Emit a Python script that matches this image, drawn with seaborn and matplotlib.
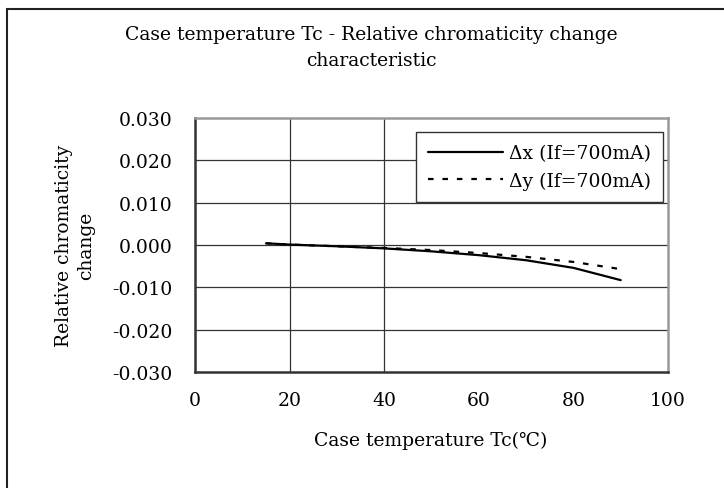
import matplotlib
matplotlib.use('Agg')
import matplotlib.pyplot as plt
import seaborn as sns
import pandas as pd
from matplotlib.patches import Rectangle

# DANE
temps = [15, 20, 30, 40, 50, 60, 70, 80, 90]
dx_vals = [0.0004, 0.0001, -0.0003, -0.0008, -0.0015, -0.0024, -0.0036, -0.0054, -0.0083]
dy_vals = [0.0004, 0.0001, -0.0003, -0.0007, -0.0012, -0.0019, -0.0028, -0.0040, -0.0057]
x_ticks = [0, 20, 40, 60, 80, 100]
y_ticks = [-0.030, -0.020, -0.010, 0.000, 0.010, 0.020, 0.030]
x_grid = [20, 40]

title_text = 'Case temperature Tc - Relative chromaticity change\ncharacteristic'
xlabel_text = 'Case temperature Tc(℃)'
ylabel_text = 'Relative chromaticity\nchange'
label_dx = 'Δx (If=700mA)'
label_dy = 'Δy (If=700mA)'

FS = 13.5

sns.set_style('white')
plt.rcParams['font.family'] = ['DejaVu Serif', 'DejaVu Sans']
plt.rcParams['text.color'] = 'black'

fig = plt.figure(figsize=(7.24, 4.89), dpi=100)
W, H = 724, 489

# ramka wokol calego wykresu
fig.patches.append(Rectangle((7 / W, -0.1), 1.2, 1 - 10 / H + 0.1, transform=fig.transFigure,
                             fill=False, edgecolor='#222222', linewidth=1.5))

ax = fig.add_axes([195 / W, 1 - 373 / H, 473 / W, 254 / H])

df = pd.DataFrame({'temp': temps, 'dx': dx_vals, 'dy': dy_vals})
sns.lineplot(data=df, x='temp', y='dx', ax=ax, color='black', linewidth=1.6, label=label_dx)
sns.lineplot(data=df, x='temp', y='dy', ax=ax, color='black', linewidth=1.6, label=label_dy)
ax.lines[1].set_dashes((2.5, 4))

ax.set_xlim(0, 100)
ax.set_ylim(-0.030, 0.030)
ax.set_xticks(x_ticks)
ax.set_yticks(y_ticks)
ax.set_xticklabels([str(t) for t in x_ticks])
ax.set_yticklabels(['%.3f' % t for t in y_ticks])
ax.set_xlabel('')
ax.set_ylabel('')

ax.tick_params(axis='x', direction='in', length=5, width=1, pad=14, labelsize=FS,
               colors='#333333', labelcolor='black')
ax.tick_params(axis='y', direction='in', length=5, width=1, pad=16, labelsize=FS,
               colors='#333333', labelcolor='black')

# siatka: poziome na kazdym ticku, pionowe tylko przy 20 i 40
for yv in y_ticks[1:-1]:
    ax.axhline(yv, color='#333333', linewidth=0.9, zorder=0)
for xv in x_grid:
    ax.axvline(xv, color='#333333', linewidth=0.9, zorder=0)

for side in ['left', 'bottom']:
    ax.spines[side].set_color('#333333')
    ax.spines[side].set_linewidth(1.8)
for side in ['top', 'right']:
    ax.spines[side].set_color('#999999')
    ax.spines[side].set_linewidth(1.8)

leg = ax.legend(loc='upper right', bbox_to_anchor=(0.99, 0.945), fontsize=FS,
                frameon=True, fancybox=False, edgecolor='#333333', framealpha=1,
                handlelength=4.0, handletextpad=0.3, borderpad=0.65, labelspacing=0.5,
                borderaxespad=0)
leg.get_frame().set_linewidth(1.0)
for t in leg.get_texts():
    t.set_color('black')

fig.text(371 / W, 1 - 48 / H, title_text, ha='center', va='center', fontsize=FS,
         linespacing=1.5, color='black')
fig.text(431 / W, 1 - 441 / H, xlabel_text, ha='center', va='center', fontsize=FS,
         color='black')
fig.text(75 / W, 1 - 246 / H, ylabel_text, ha='center', va='center', fontsize=FS,
         rotation=90, multialignment='center', linespacing=1.35, color='black')

fig.savefig('out.png', dpi=100)
plt.close(fig)
